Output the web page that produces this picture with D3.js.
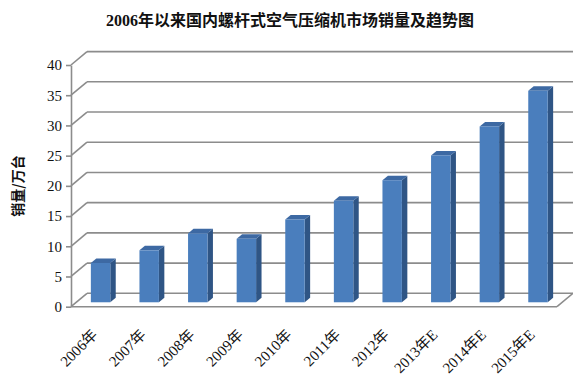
<!DOCTYPE html>
<html>
<head>
<meta charset="utf-8">
<script src="https://cdn.jsdelivr.net/npm/d3@7"></script>
<style>
  body { margin: 0; background: #fff; }
  svg { display: block; }
</style>
</head>
<body>
<div id="visual"></div>
<script>
// chart data
const years = ["2006年", "2007年", "2008年", "2009年", "2010年", "2011年", "2012年", "2013年E", "2014年E", "2015年E"];
const sales = [6.5, 8.6, 11.4, 10.5, 13.7, 16.8, 20.2, 24.3, 29.1, 35.0];
const yTicks = [0, 5, 10, 15, 20, 25, 30, 35, 40];

const titleText = "2006年以来国内螺杆式空气压缩机市场销量及趋势图";
const yTitle = "销量/万台";

const width = 573, height = 384;
const serif = "'Liberation Serif', 'Times New Roman', 'Noto Sans CJK SC', serif";

// front plane of the 3D box
const left = 71, right = 557, floorY = 306.7, topY = 65;
const depth = { x: 16, y: -13.4 };   // wall depth offset
const barFront = 0.33, barBack = 0.67; // bar position inside the depth

const svg = d3.select("#visual")
    .append("svg")
    .attr("width", width)
    .attr("height", height);

const x = d3.scaleBand()
    .domain(years)
    .range([left, right])
    .paddingInner(0.6)
    .paddingOuter(0.3);

const y = d3.scaleLinear()
    .domain([0, 40])
    .range([floorY, topY]);

// title
svg.append("text")
    .attr("x", 290)
    .attr("y", 26)
    .attr("text-anchor", "middle")
    .style("font-family", serif)
    .style("font-size", "16px")
    .style("font-weight", "bold")
    .style("fill", "#111")
    .text(titleText);

// walls: back gridlines + side wall diagonals
const grid = svg.append("g")
    .attr("stroke", "#8c8c8c")
    .attr("stroke-width", 1.6)
    .attr("fill", "none");

grid.selectAll(".back")
    .data(yTicks)
    .enter()
    .append("line")
    .attr("x1", left + depth.x)
    .attr("x2", right + depth.x)
    .attr("y1", d => y(d) + depth.y)
    .attr("y2", d => y(d) + depth.y);

grid.selectAll(".side")
    .data(yTicks)
    .enter()
    .append("line")
    .attr("x1", left)
    .attr("x2", left + depth.x)
    .attr("y1", d => y(d))
    .attr("y2", d => y(d) + depth.y);

// floor front edge and right edge
grid.append("line")
    .attr("x1", left).attr("x2", right)
    .attr("y1", y(0)).attr("y2", y(0));
grid.append("line")
    .attr("x1", right).attr("x2", right + depth.x)
    .attr("y1", y(0)).attr("y2", y(0) + depth.y);

// y axis
const yAxis = svg.append("g")
    .attr("transform", "translate(" + left + ",0)")
    .call(d3.axisLeft(y).tickValues(yTicks).tickSize(5).tickSizeOuter(0).tickPadding(4));
yAxis.selectAll("path, line")
    .attr("stroke", "#8c8c8c")
    .attr("stroke-width", 1.6);
yAxis.selectAll("text")
    .style("font-family", serif)
    .style("font-size", "15px")
    .style("fill", "#111");

// y axis title
svg.append("text")
    .attr("transform", "translate(23,186) rotate(-90)")
    .attr("text-anchor", "middle")
    .style("font-family", "'Noto Sans CJK SC', sans-serif")
    .style("font-size", "14px")
    .style("font-weight", "bold")
    .style("fill", "#111")
    .text(yTitle);

// bars
const fx = barFront * depth.x, fy = barFront * depth.y;
const bx = barBack * depth.x, by = barBack * depth.y;
const bw = x.bandwidth();
const data = years.map((d, i) => ({ year: d, value: sales[i] }));

const bars = svg.selectAll(".bar")
    .data(data)
    .enter()
    .append("g");

// side face
bars.append("path")
    .attr("fill", "#2f5585")
    .attr("d", d => {
        const x0 = x(d.year) + bw;
        const yb = y(0), yt = y(d.value);
        return "M" + (x0 + fx) + "," + (yb + fy) +
            "L" + (x0 + bx) + "," + (yb + by) +
            "L" + (x0 + bx) + "," + (yt + by) +
            "L" + (x0 + fx) + "," + (yt + fy) + "Z";
    });

// top face
bars.append("path")
    .attr("fill", "#3d69a3")
    .attr("d", d => {
        const x0 = x(d.year), x1 = x0 + bw;
        const yt = y(d.value);
        return "M" + (x0 + fx) + "," + (yt + fy) +
            "L" + (x1 + fx) + "," + (yt + fy) +
            "L" + (x1 + bx) + "," + (yt + by) +
            "L" + (x0 + bx) + "," + (yt + by) + "Z";
    });

// front face
bars.append("rect")
    .attr("x", d => x(d.year) + fx)
    .attr("y", d => y(d.value) + fy)
    .attr("width", bw)
    .attr("height", d => y(0) - y(d.value))
    .attr("fill", "#4a7ebd");

// x axis labels
const xAxis = svg.append("g")
    .attr("transform", "translate(0," + floorY + ")")
    .call(d3.axisBottom(x).tickSize(0));
xAxis.select(".domain").remove();
xAxis.selectAll("text")
    .attr("text-anchor", "end")
    .attr("dy", null)
    .attr("transform", "translate(3,29) rotate(-45)")
    .attr("y", 0)
    .style("font-family", serif)
    .style("font-size", "15px")
    .style("fill", "#111");
</script>
</body>
</html>
